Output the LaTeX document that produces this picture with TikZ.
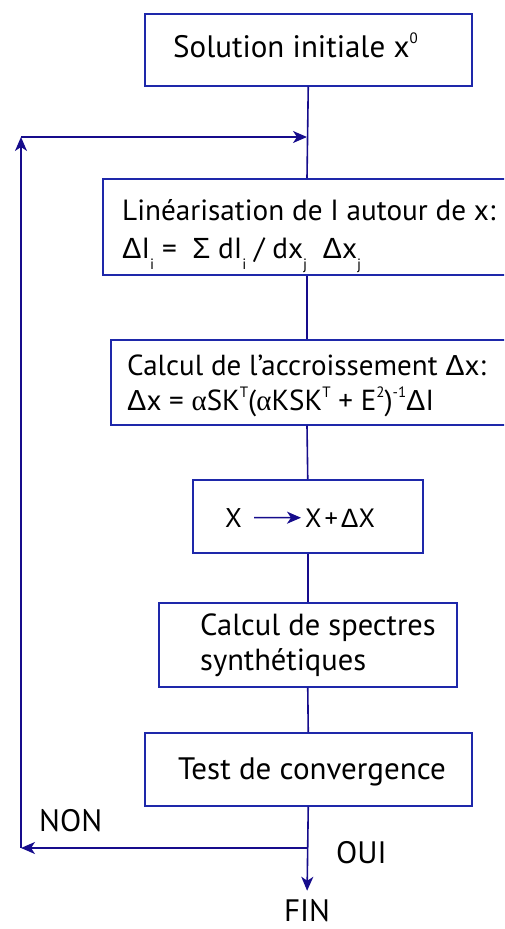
\documentclass[tikz,border=0pt]{standalone}
\usepackage{fontspec}
\setmainfont{PT Sans}
\newfontfamily\grk{Liberation Sans}
\newfontfamily\alp{Liberation Serif}
\usetikzlibrary{arrows.meta}
\definecolor{lineblue}{RGB}{22,12,140}
\definecolor{boxblue}{RGB}{30,40,170}
\newcommand{\Dl}{{\grk Δ}}
\newcommand{\Sg}{{\grk Σ}}
\newcommand{\al}{{\alp α}}
\newcommand{\sub}[1]{\raisebox{-0.38em}{\fontsize{15}{15}\selectfont #1}}
\newcommand{\sups}[1]{\raisebox{0.42em}{\fontsize{15}{15}\selectfont #1}}
\begin{document}
\begin{tikzpicture}[x=1pt,y=-1pt,
  box/.style={draw=boxblue, line width=1.5pt, inner sep=0pt, fill=white, anchor=north west},
  conn/.style={draw=lineblue, line width=1.6pt},
  tip/.style={-{Stealth[length=14pt,width=12pt,inset=4pt]}},
  txt/.style={font=\fontsize{29}{34}\selectfont, inner sep=0pt, anchor=base west, text=black},
  big/.style={font=\fontsize{31}{36}\selectfont}]
\useasboundingbox (0,0) rectangle (504,929);
\clip (0,0) rectangle (504,929);
% boxes
\node[box, minimum width=327pt, minimum height=72pt] (b1) at (144,13) {};
\node[box, minimum width=420pt, minimum height=96pt] (b2) at (102,178) {};
\node[box, minimum width=420pt, minimum height=85pt] (b3) at (110,339) {};
\node[box, minimum width=230pt, minimum height=73pt] (b4) at (192,479) {};
\node[box, minimum width=298pt, minimum height=84pt] (b5) at (158,602) {};
\node[box, minimum width=327pt, minimum height=73pt] (b6) at (144,732) {};
% texts
\node[txt, big] (t1) at (173,57) {Solution initiale x\sups{0}};
\node[txt, font=\fontsize{29.2}{34}\selectfont] (t2a) at (122,220) {Linéarisation de I autour de x:};
\node[txt, font=\fontsize{29.2}{34}\selectfont] (t2b) at (122,258) {\Dl I\sub{i} = \ \Sg\ dI\sub{i} / dx\sub{j} \ \Dl x\sub{j}};
\node[txt, font=\fontsize{29}{34}\selectfont] (t3a) at (127,375) {Calcul de l’accroissement \Dl x:};
\node[txt, font=\fontsize{29}{34}\selectfont] (t3b) at (127,410) {\Dl x = \al SK\sups{T}(\al KSK\sups{T} + E\sups{2})\sups{-1}\Dl I};
\node[txt, font=\fontsize{27}{34}\selectfont] (xa) at (225,527) {X};
\node[txt, font=\fontsize{26.5}{34}\selectfont] (xb) at (305,527) {X\hspace{3pt}+\hspace{3pt}\Dl X};
\node[txt, font=\fontsize{30.5}{34}\selectfont] (t5a) at (200,635) {Calcul de spectres};
\node[txt, font=\fontsize{30.5}{34}\selectfont] (t5b) at (200,670) {synthétiques};
\node[txt, big] (t6) at (178,779) {Test de convergence};
\node[txt, big] (non) at (39,831) {NON};
\node[txt, big] (oui) at (336,863) {OUI};
\node[txt, big, anchor=base] (fin) at (307,921) {FIN};
% coordinates
\coordinate (jtop) at (307,137);
\coordinate (ltop) at (21,137);
\coordinate (lbot) at (21,848);
\coordinate (jbot) at (307,848);
% connectors
\draw[conn] (b1.south) -- (jtop |- b2.north);
\draw[conn, tip] (lbot) -- (ltop);
\draw[conn, tip] (ltop) -- (jtop);
\draw[conn] (jtop |- b2.south) -- (jtop |- b3.north);
\draw[conn] (jtop |- b3.south) -- (b4.north);
\draw[conn] (b4.south) -- (b5.north);
\draw[conn] (b5.south) -- (b6.north);
\draw[conn, tip, shorten >=8pt] (b6.south) -- (fin.north);
\draw[conn, tip] (jbot) -- (lbot);
\draw[conn, tip, shorten <=12pt, shorten >=4pt] (xa.east) -- (xb.west);
\end{tikzpicture}
\end{document}
